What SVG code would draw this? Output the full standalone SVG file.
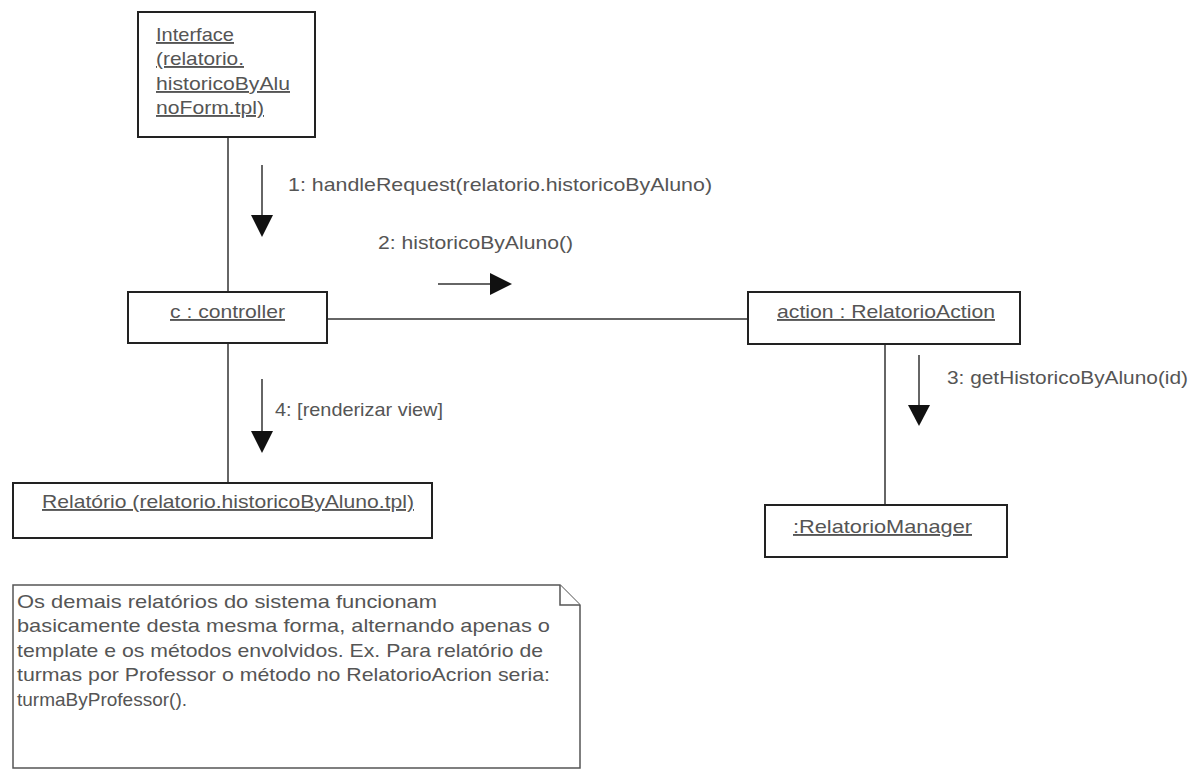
<svg xmlns="http://www.w3.org/2000/svg" width="1198" height="773" viewBox="0 0 1198 773">
<style>
.box{fill:#fff;stroke:#222;stroke-width:2}
.ln{stroke:#333;stroke-width:1.5;fill:none}
.msg{stroke:#333;stroke-width:1.5;fill:none}
.head{fill:#111}
text{font-family:"Liberation Sans",Arial,sans-serif;font-size:19px;fill:#555}
.u{text-decoration:underline}
.note{fill:#fff;stroke:#555;stroke-width:1.5}
</style>
<rect width="1198" height="773" fill="#fff"/>
<g id="connectors">
<line class="ln" x1="228" y1="137" x2="228" y2="292"/>
<line class="ln" x1="327" y1="319" x2="748" y2="319"/>
<line class="ln" x1="885" y1="344" x2="885" y2="505"/>
<line class="ln" x1="228" y1="343" x2="228" y2="483"/>
</g>
<g id="messages">
<g id="msg1">
<line class="msg" x1="262" y1="165" x2="262" y2="218"/>
<polygon class="head" points="251,215 273,215 262,237"/>
<text x="288" y="191" textLength="424" lengthAdjust="spacingAndGlyphs">1: handleRequest(relatorio.historicoByAluno)</text>
</g>
<g id="msg2">
<text x="378" y="249" textLength="195" lengthAdjust="spacingAndGlyphs">2: historicoByAluno()</text>
<line class="msg" x1="438" y1="284" x2="492" y2="284"/>
<polygon class="head" points="490,273 512,284 490,295"/>
</g>
<g id="msg4">
<line class="msg" x1="262" y1="379" x2="262" y2="434"/>
<polygon class="head" points="251,431 273,431 262,453"/>
<text x="275" y="416" textLength="168" lengthAdjust="spacingAndGlyphs">4: [renderizar view]</text>
</g>
<g id="msg3">
<line class="msg" x1="919" y1="355" x2="919" y2="408"/>
<polygon class="head" points="908,405 930,405 919,426"/>
<text x="947" y="384" textLength="241" lengthAdjust="spacingAndGlyphs">3: getHistoricoByAluno(id)</text>
</g>
</g>
<g id="interface">
<rect class="box" x="138" y="12" width="177" height="125"/>
<text class="u" x="156" y="41" textLength="78" lengthAdjust="spacingAndGlyphs">Interface</text>
<text class="u" x="156" y="65" textLength="88" lengthAdjust="spacingAndGlyphs">(relatorio.</text>
<text class="u" x="156" y="90" textLength="134" lengthAdjust="spacingAndGlyphs">historicoByAlu</text>
<text class="u" x="156" y="114" textLength="108" lengthAdjust="spacingAndGlyphs">noForm.tpl)</text>
</g>
<g id="controller">
<rect class="box" x="128" y="292" width="199" height="51"/>
<text class="u" x="170" y="318" textLength="115" lengthAdjust="spacingAndGlyphs">c : controller</text>
</g>
<g id="action">
<rect class="box" x="748" y="292" width="272" height="52"/>
<text class="u" x="777" y="318" textLength="218" lengthAdjust="spacingAndGlyphs">action : RelatorioAction</text>
</g>
<g id="manager">
<rect class="box" x="765" y="505" width="242" height="52"/>
<text class="u" x="793" y="533" textLength="179" lengthAdjust="spacingAndGlyphs">:RelatorioManager</text>
</g>
<g id="relatorio">
<rect class="box" x="13" y="483" width="419" height="55"/>
<text class="u" x="42" y="508" textLength="372" lengthAdjust="spacingAndGlyphs">Relatório (relatorio.historicoByAluno.tpl)</text>
</g>
<g id="note">
<path class="note" d="M13,768 V585 H560 L580,605 V768 Z"/>
<path class="note" d="M560,585 V605 H580" fill="none"/>
<text x="17" y="608" textLength="420" lengthAdjust="spacingAndGlyphs">Os demais relatórios do sistema funcionam</text>
<text x="17" y="632" textLength="533" lengthAdjust="spacingAndGlyphs">basicamente desta mesma forma, alternando apenas o</text>
<text x="17" y="657" textLength="526" lengthAdjust="spacingAndGlyphs">template e os métodos envolvidos. Ex. Para relatório de</text>
<text x="17" y="681" textLength="533" lengthAdjust="spacingAndGlyphs">turmas por Professor o método no RelatorioAcrion seria:</text>
<text x="17" y="706" textLength="170" lengthAdjust="spacingAndGlyphs">turmaByProfessor().</text>
</g>
</svg>
